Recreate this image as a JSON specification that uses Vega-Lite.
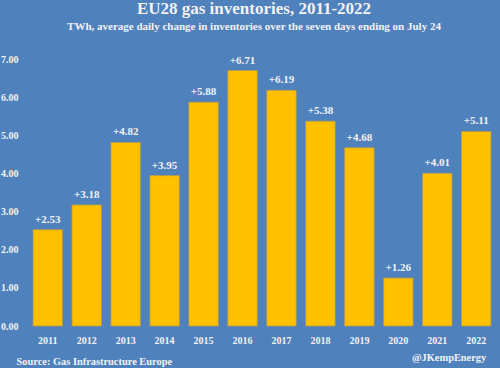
{
  "$schema": "https://vega.github.io/schema/vega-lite/v6.json",
  "width": 468,
  "height": 266.5,
  "autosize": "none",
  "padding": {"left": 28, "top": 59.5, "right": 4, "bottom": 42},
  "background": "#4F81BD",
  "config": {
    "view": {"stroke": null},
    "font": "Liberation Serif",
    "axis": {"grid": false, "domain": false, "ticks": false, "labelFont": "Liberation Serif", "labelFontWeight": "bold", "labelColor": "#F2F2F2", "labelFontSize": 10}
  },
  "title": {
    "text": "EU28 gas inventories, 2011-2022",
    "subtitle": "TWh, average daily change in inventories over the seven days ending on July 24",
    "anchor": "middle",
    "dx": -8,
    "offset": 22,
    "font": "Liberation Serif",
    "fontSize": 17,
    "fontWeight": "bold",
    "color": "#F2F2F2",
    "subtitleFont": "Liberation Serif",
    "subtitleFontSize": 11,
    "subtitleFontWeight": "bold",
    "subtitleColor": "#F2F2F2",
    "subtitlePadding": 3
  },
  "data": {
    "values": [
      {"year": "2011", "value": 2.53},
      {"year": "2012", "value": 3.18},
      {"year": "2013", "value": 4.82},
      {"year": "2014", "value": 3.95},
      {"year": "2015", "value": 5.88},
      {"year": "2016", "value": 6.71},
      {"year": "2017", "value": 6.19},
      {"year": "2018", "value": 5.38},
      {"year": "2019", "value": 4.68},
      {"year": "2020", "value": 1.26},
      {"year": "2021", "value": 4.01},
      {"year": "2022", "value": 5.11}
    ]
  },
  "encoding": {
    "x": {
      "field": "year", "type": "nominal", "sort": null,
      "scale": {"paddingInner": 0.245, "paddingOuter": 0.13},
      "axis": {"labelAngle": 0, "labelPadding": 9, "title": "Source: Gas Infrastructure Europe", "titleAnchor": "start", "titleAlign": "left", "titleBaseline": "alphabetic", "titleX": -12, "titleY": 38, "titleFont": "Liberation Serif", "titleFontSize": 10.4, "titleFontWeight": "bold", "titleColor": "#F2F2F2"}
    },
    "y": {
      "field": "value", "type": "quantitative",
      "scale": {"domain": [0, 7]},
      "axis": {"title": null, "format": ".2f", "values": [0, 1, 2, 3, 4, 5, 6, 7], "labelPadding": 10}
    }
  },
  "layer": [
    {"mark": {"type": "bar", "color": "#FFC000", "stroke": "#B59A4A", "strokeWidth": 0.8}},
    {"mark": {"type": "text", "dy": -10, "fontSize": 11, "fontWeight": "bold", "color": "#F2F2F2", "font": "Liberation Serif"},
     "encoding": {"text": {"field": "value", "type": "quantitative", "format": "+.2f"}}},
    {"data": {"values": [{"handle": "@JKempEnergy", "year": "2022", "pos": -0.93}]},
     "mark": {"type": "text", "align": "right", "baseline": "alphabetic", "dx": 10, "fontSize": 10.4, "fontWeight": "bold", "color": "#F2F2F2", "font": "Liberation Serif", "clip": false},
     "encoding": {"x": {"field": "year", "type": "nominal"}, "y": {"field": "pos", "type": "quantitative"}, "text": {"field": "handle", "type": "nominal"}}}
  ]
}
